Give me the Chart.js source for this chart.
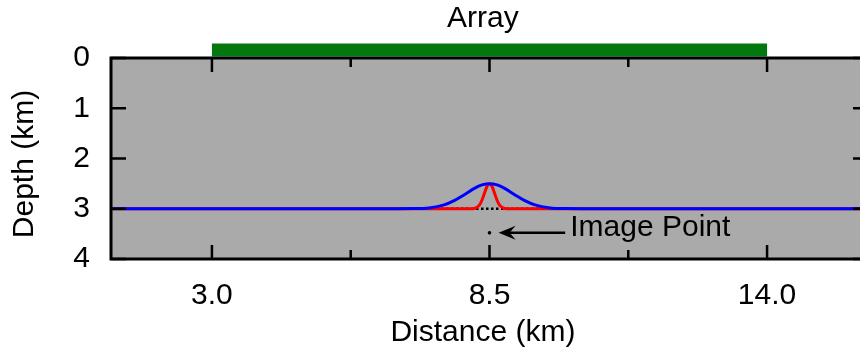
<!DOCTYPE html>
<html><head><meta charset="utf-8">
<script src="https://cdn.jsdelivr.net/npm/chart.js@4.4.1/dist/chart.umd.min.js"></script>
<style>
html,body{margin:0;padding:0;overflow:hidden;background:#fff;width:860px;height:356px}
#wrap{width:880px;height:356px}
</style></head>
<body><div id="wrap"><canvas id="c" width="880" height="356"></canvas></div>
<script>
// ---- data ----
const xTicks = [3.0, 8.5, 14.0];
const xMinorTicks = [5.75, 11.25];
const yTicks = [0, 1, 2, 3, 4];
const blueX     = [1, 6.5, 7.0, 7.3, 7.6, 7.8, 8.0, 8.2, 8.35, 8.5, 8.65, 8.8, 9.0, 9.2, 9.4, 9.7, 10.0, 10.5, 16];
const blueDepth = [3, 3, 2.997, 2.983, 2.924, 2.84, 2.721, 2.595, 2.526, 2.5, 2.526, 2.595, 2.721, 2.84, 2.924, 2.983, 2.997, 3, 3];
const redX      = [1, 8.1, 8.2, 8.3, 8.35, 8.4, 8.45, 8.5, 8.55, 8.6, 8.65, 8.7, 8.8, 8.9, 16];
const redDepth  = [3, 3, 2.994, 2.928, 2.831, 2.691, 2.556, 2.5, 2.556, 2.691, 2.831, 2.928, 2.994, 3, 3];
const horizonX = [1, 16];
const horizonDepth = [3, 3];
const arrayX = [3.0, 14.0];
const arrayDepth = [-0.16, -0.16];
const imagePointX = [8.5];
const imagePointDepth = [3.48];
const texts = { top: 'Array', x: 'Distance (km)', y: 'Depth (km)', point: 'Image Point' };

const pts = (xs, ys) => xs.map((v, i) => ({ x: v, y: ys[i] }));
const FONT = '"Liberation Sans", Arial, sans-serif';
const FS = 30;

const decor = {
  id: 'decor',
  beforeDraw(chart) {
    const { ctx, chartArea: a } = chart;
    ctx.save();
    ctx.fillStyle = '#aaaaaa';
    ctx.fillRect(a.left, a.top, a.width, a.height);
    ctx.restore();
  },
  afterDatasetsDraw(chart) {
    const { ctx, chartArea: a, scales: { x, y } } = chart;
    ctx.save();
    ctx.strokeStyle = '#000';
    ctx.lineWidth = 2.5;
    ctx.beginPath();
    xTicks.forEach(v => {
      const px = x.getPixelForValue(v);
      ctx.moveTo(px, a.bottom); ctx.lineTo(px, a.bottom - 14);
      ctx.moveTo(px, a.top); ctx.lineTo(px, a.top + 14);
    });
    xMinorTicks.forEach(v => {
      const px = x.getPixelForValue(v);
      ctx.moveTo(px, a.bottom); ctx.lineTo(px, a.bottom - 9);
      ctx.moveTo(px, a.top); ctx.lineTo(px, a.top + 9);
    });
    yTicks.forEach(v => {
      const py = y.getPixelForValue(v);
      ctx.moveTo(a.left, py); ctx.lineTo(a.left + 15, py);
      ctx.moveTo(a.right, py); ctx.lineTo(a.right - 15, py);
    });
    ctx.stroke();
    ctx.lineWidth = 3;
    ctx.strokeRect(a.left, a.top, a.width, a.height);

    // arrow to image point
    const ay = y.getPixelForValue(imagePointDepth[0]);
    const x0 = x.getPixelForValue(10.0), x1 = x.getPixelForValue(8.68);
    ctx.lineWidth = 2.5;
    ctx.beginPath(); ctx.moveTo(x0, ay); ctx.lineTo(x1 + 8, ay); ctx.stroke();
    ctx.fillStyle = '#000';
    ctx.beginPath();
    ctx.moveTo(x1, ay);
    ctx.lineTo(x1 + 17, ay - 7);
    ctx.lineTo(x1 + 11, ay);
    ctx.lineTo(x1 + 17, ay + 7);
    ctx.closePath(); ctx.fill();

    // texts
    ctx.font = FS + 'px ' + FONT;
    ctx.fillStyle = '#000';
    ctx.textBaseline = 'middle';
    ctx.textAlign = 'left';
    ctx.fillText(texts.point, x.getPixelForValue(10.1), y.getPixelForValue(3.38));
    ctx.textAlign = 'center';
    const cx = x.getPixelForValue(8.37);
    ctx.fillText(texts.top, cx, 19);
    ctx.fillText(texts.x, cx, 333);
    ctx.translate(25, y.getPixelForValue(2.11));
    ctx.rotate(-Math.PI / 2);
    ctx.fillText(texts.y, 0, 0);
    ctx.restore();
  }
};

new Chart(document.getElementById('c'), {
  type: 'line',
  data: {
    datasets: [
      { label: 'image point', type: 'scatter', data: pts(imagePointX, imagePointDepth),
        pointRadius: 1.8, pointBackgroundColor: '#000', pointBorderWidth: 0, showLine: false, order: 0 },
      { label: 'array', data: pts(arrayX, arrayDepth), borderColor: '#03780f', borderWidth: 13,
        borderCapStyle: 'butt', pointRadius: 0, clip: false, order: 1 },
      { label: 'blue', data: pts(blueX, blueDepth), borderColor: '#0000ff', borderWidth: 3,
        pointRadius: 0, cubicInterpolationMode: 'monotone', order: 2 },
      { label: 'red', data: pts(redX, redDepth), borderColor: '#ff0000', borderWidth: 3,
        pointRadius: 0, cubicInterpolationMode: 'monotone', order: 3 },
      { label: 'horizon', data: pts(horizonX, horizonDepth), borderColor: '#000', borderWidth: 2.5,
        borderDash: [2.5, 2.5], pointRadius: 0, order: 4 }
    ]
  },
  options: {
    responsive: false,
    animation: false,
    events: [],
    layout: { padding: { top: 58, right: 12, left: 0, bottom: 0 } },
    plugins: { legend: { display: false }, tooltip: { enabled: false }, title: { display: false } },
    scales: {
      x: {
        type: 'linear', min: 1, max: 16,
        grid: { display: false, drawTicks: false }, border: { display: false },
        afterBuildTicks: ax => { ax.ticks = xTicks.map(v => ({ value: v })); },
        afterFit: ax => { ax.height = 97; ax.paddingLeft = 0; ax.paddingRight = 0; },
        ticks: { autoSkip: false, maxRotation: 0, padding: 19, color: '#000',
          font: { family: FONT, size: FS }, callback: v => Number(v).toFixed(1) }
      },
      y: {
        type: 'linear', min: 0, max: 4, reverse: true,
        grid: { display: false, drawTicks: false }, border: { display: false },
        afterBuildTicks: ax => { ax.ticks = yTicks.map(v => ({ value: v })); },
        afterFit: ax => { ax.width = 111; ax.paddingTop = 0; ax.paddingBottom = 0; },
        ticks: { padding: 21, color: '#000', font: { family: FONT, size: FS }, callback: v => String(v) }
      }
    }
  },
  plugins: [decor]
});
</script>
</body></html>
